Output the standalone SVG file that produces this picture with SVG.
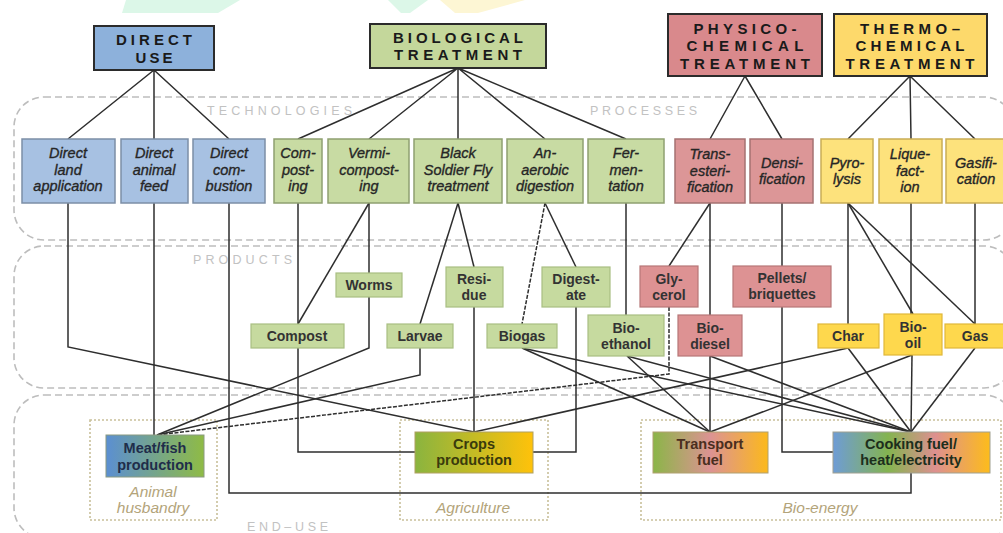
<svg xmlns="http://www.w3.org/2000/svg" width="1003" height="533" viewBox="0 0 1003 533">
<style>
.title{font-family:"Liberation Sans",Arial,sans-serif;font-weight:bold;font-size:15px;fill:#1a1a1a;text-anchor:middle}
.tech{font-family:"Liberation Sans",Arial,sans-serif;font-style:italic;font-size:14.5px;fill:#262626;stroke:#262626;stroke-width:0.35;text-anchor:middle}
.prod{font-family:"Liberation Sans",Arial,sans-serif;font-weight:bold;font-size:14px;fill:#333;text-anchor:middle}
.end{font-family:"Liberation Sans",Arial,sans-serif;font-weight:bold;font-size:14.5px;text-anchor:middle}
.cat{font-family:"Liberation Sans",Arial,sans-serif;font-style:italic;font-size:15.5px;fill:#b3a47a;text-anchor:middle}
.sec{font-family:"Liberation Sans",Arial,sans-serif;font-size:12.5px;fill:#c2c2c2}
.region{fill:none;stroke:#bdbdbd;stroke-width:1.6;stroke-dasharray:7 4}
.dot{fill:none;stroke:#c9c09a;stroke-width:1.6;stroke-dasharray:2 2}
.tb{stroke:#2b2b2b;stroke-width:2}
.blue{fill:#a7c1e2;stroke:#7c8ea6;stroke-width:1.5}
.green{fill:#c8dba3;stroke:#8fa070;stroke-width:1.5}
.pink{fill:#dc9697;stroke:#a57272;stroke-width:1.5}
.yellow{fill:#fde27c;stroke:#c9ad55;stroke-width:1.5}
.pgreen{fill:#c6da9f;stroke:#a9bf83;stroke-width:1.2}
.ppink{fill:#dd9293;stroke:#b77777;stroke-width:1.2}
.pyellow{fill:#fed84d;stroke:#e0b83a;stroke-width:1.2}
.conn path{fill:none;stroke:#2e2e2e;stroke-width:1.5}
.conn path.d{stroke-dasharray:4 1.5}
</style>
<defs>
<linearGradient id="gMeat" x1="0" x2="1"><stop offset="0" stop-color="#5b8fd2"/><stop offset="1" stop-color="#8fbb45"/></linearGradient>
<linearGradient id="gCrops" x1="0" x2="1"><stop offset="0" stop-color="#8ab43f"/><stop offset="1" stop-color="#ffc20a"/></linearGradient>
<linearGradient id="gTrans" x1="0" x2="1"><stop offset="0" stop-color="#8bb548"/><stop offset="0.5" stop-color="#dc9393"/><stop offset="1" stop-color="#fcb91c"/></linearGradient>
<linearGradient id="gCook" x1="0" x2="1"><stop offset="0" stop-color="#6e9cd6"/><stop offset="0.35" stop-color="#84b450"/><stop offset="0.65" stop-color="#dd9090"/><stop offset="1" stop-color="#fdbc1b"/></linearGradient>
</defs>
<rect width="1003" height="533" fill="#ffffff"/>
<polygon points="126,0 240,0 218,13 122,13" fill="#dcf7e8"/>
<polygon points="388,0 428,0 410,13 401,13" fill="#dcf7e8"/>
<polygon points="440,0 525,0 478,13 455,13" fill="#fdf6d4"/>

<g id="regions">
<rect class="region" x="14" y="97" width="1000" height="143" rx="30"/>
<rect class="region" x="14" y="246" width="1000" height="142" rx="30"/>
<rect class="region" x="14" y="395" width="1000" height="143" rx="30"/>
<text class="sec" x="207" y="115" textLength="145" lengthAdjust="spacing">TECHNOLOGIES</text>
<text class="sec" x="590" y="115" textLength="107" lengthAdjust="spacing">PROCESSES</text>
<text class="sec" x="193" y="264" textLength="99" lengthAdjust="spacing">PRODUCTS</text>
<rect x="240" y="519" width="95" height="14" fill="#ffffff"/>
<text class="sec" x="247" y="531" textLength="81" lengthAdjust="spacing">END–USE</text>
<rect class="dot" x="90" y="420" width="127" height="100"/>
<rect class="dot" x="400" y="420" width="148" height="100"/>
<rect class="dot" x="641" y="420" width="360" height="100"/>
<text class="cat" x="153" y="497">Animal</text>
<text class="cat" x="153" y="513">husbandry</text>
<text class="cat" x="473" y="513">Agriculture</text>
<text class="cat" x="820" y="513">Bio-energy</text>
</g>

<g id="connectors" class="conn">
<path d="M154,70 L68,139 M154,70 L154,139 M154,70 L229,139"/>
<path d="M458,68 L298,139 M458,68 L369,139 M458,68 L458,139 M458,68 L545,139 M458,68 L626,139"/>
<path d="M745,76 L710,139 M745,76 L782,139"/>
<path d="M910,76 L848,139 M910,76 L911,139 M910,76 L975,139"/>
<path d="M68,203 V347 L474,432"/>
<path d="M154,203 V435"/>
<path d="M229,203 V493 H911 V473"/>
<path d="M298,203 V452 H415"/>
<path d="M369,203 L298,324"/>
<path d="M369,203 V273"/>
<path d="M369,297 V348 L157,435"/>
<path d="M458,203 L420,324"/>
<path d="M458,203 L474,267"/>
<path d="M420,348 V375 L157,435"/>
<path d="M474,307 V432"/>
<path class="d" d="M545,203 L522,324"/>
<path d="M545,203 L576,267"/>
<path d="M576,307 V452 H533"/>
<path d="M522,348 L710,432"/>
<path d="M522,348 L911,432"/>
<path d="M626,203 V315"/>
<path d="M627,356 L710,432"/>
<path d="M627,356 L911,432"/>
<path d="M710,203 L669,266"/>
<path d="M710,203 V315"/>
<path class="d" d="M669,307 V374 L157,435"/>
<path d="M710,356 V432"/>
<path d="M710,356 L911,432"/>
<path d="M782,203 V266"/>
<path d="M782,307 V452 H833"/>
<path d="M848,203 V324"/>
<path d="M848,203 L913,314"/>
<path d="M848,203 L975,324"/>
<path d="M911,203 V314"/>
<path d="M975,203 V324"/>
<path d="M848,348 L911,432"/>
<path d="M848,348 L474,432"/>
<path d="M912,355 L911,432"/>
<path d="M912,355 L710,432"/>
<path d="M975,348 L911,432"/>
</g>

<g id="direct-use"><rect class="tb" x="94" y="26" width="120" height="44" fill="#8db1db"/>
<text class="title" x="154" y="45" textLength="76" lengthAdjust="spacing">DIRECT</text>
<text class="title" x="154" y="63" textLength="37" lengthAdjust="spacing">USE</text></g>
<g id="biological"><rect class="tb" x="370" y="24" width="176" height="44" fill="#c4d79b"/>
<text class="title" x="458" y="43" textLength="130" lengthAdjust="spacing">BIOLOGICAL</text>
<text class="title" x="458" y="60" textLength="128" lengthAdjust="spacing">TREATMENT</text></g>
<g id="physico"><rect class="tb" x="668" y="14" width="154" height="62" fill="#d9898c"/>
<text class="title" x="745" y="34" textLength="103" lengthAdjust="spacing">PHYSICO-</text>
<text class="title" x="745" y="51" textLength="117" lengthAdjust="spacing">CHEMICAL</text>
<text class="title" x="745" y="69" textLength="130" lengthAdjust="spacing">TREATMENT</text></g>
<g id="thermo"><rect class="tb" x="834" y="14" width="153" height="62" fill="#fdd96b"/>
<text class="title" x="910" y="34" textLength="100" lengthAdjust="spacing">THERMO–</text>
<text class="title" x="910" y="51" textLength="109" lengthAdjust="spacing">CHEMICAL</text>
<text class="title" x="910" y="69" textLength="129" lengthAdjust="spacing">TREATMENT</text></g>

<g id="direct-land"><rect class="blue" x="22" y="139" width="93" height="64"/>
<text class="tech" x="68" y="158">Direct</text><text class="tech" x="68" y="175">land</text><text class="tech" x="68" y="191">application</text></g>
<g id="direct-feed"><rect class="blue" x="121" y="139" width="67" height="64"/>
<text class="tech" x="154" y="158">Direct</text><text class="tech" x="154" y="175">animal</text><text class="tech" x="154" y="191">feed</text></g>
<g id="direct-combustion"><rect class="blue" x="193" y="139" width="72" height="64"/>
<text class="tech" x="229" y="158">Direct</text><text class="tech" x="229" y="175">com-</text><text class="tech" x="229" y="191">bustion</text></g>
<g id="composting"><rect class="green" x="274" y="139" width="48" height="64"/>
<text class="tech" x="298" y="158">Com-</text><text class="tech" x="298" y="175">post-</text><text class="tech" x="298" y="191">ing</text></g>
<g id="vermicomposting"><rect class="green" x="328" y="139" width="81" height="64"/>
<text class="tech" x="369" y="158">Vermi-</text><text class="tech" x="369" y="175">compost-</text><text class="tech" x="369" y="191">ing</text></g>
<g id="bsf"><rect class="green" x="414" y="139" width="88" height="64"/>
<text class="tech" x="458" y="158">Black</text><text class="tech" x="458" y="175">Soldier Fly</text><text class="tech" x="458" y="191">treatment</text></g>
<g id="anaerobic"><rect class="green" x="507" y="139" width="76" height="64"/>
<text class="tech" x="545" y="158">An-</text><text class="tech" x="545" y="175">aerobic</text><text class="tech" x="545" y="191">digestion</text></g>
<g id="fermentation"><rect class="green" x="588" y="139" width="76" height="64"/>
<text class="tech" x="626" y="158">Fer-</text><text class="tech" x="626" y="175">men-</text><text class="tech" x="626" y="191">tation</text></g>
<g id="transesterification"><rect class="pink" x="675" y="139" width="70" height="64"/>
<text class="tech" x="710" y="159">Trans-</text><text class="tech" x="710" y="176">esteri-</text><text class="tech" x="710" y="192">fication</text></g>
<g id="densification"><rect class="pink" x="750" y="139" width="63" height="64"/>
<text class="tech" x="782" y="168">Densi-</text><text class="tech" x="782" y="184">fication</text></g>
<g id="pyrolysis"><rect class="yellow" x="821" y="139" width="52" height="64"/>
<text class="tech" x="847" y="168">Pyro-</text><text class="tech" x="847" y="184">lysis</text></g>
<g id="liquefaction"><rect class="yellow" x="879" y="139" width="63" height="64"/>
<text class="tech" x="910" y="159">Lique-</text><text class="tech" x="910" y="176">fact-</text><text class="tech" x="910" y="192">ion</text></g>
<g id="gasification"><rect class="yellow" x="946" y="139" width="62" height="64"/>
<text class="tech" x="976" y="168">Gasifi-</text><text class="tech" x="976" y="184">cation</text></g>

<g id="worms"><rect class="pgreen" x="336" y="273" width="66" height="24"/><text class="prod" x="369" y="290">Worms</text></g>
<g id="compost"><rect class="pgreen" x="251" y="324" width="93" height="24"/><text class="prod" x="297" y="341">Compost</text></g>
<g id="larvae"><rect class="pgreen" x="387" y="324" width="66" height="24"/><text class="prod" x="420" y="341">Larvae</text></g>
<g id="residue"><rect class="pgreen" x="446" y="267" width="57" height="40"/><text class="prod" x="474" y="284">Resi-</text><text class="prod" x="474" y="300">due</text></g>
<g id="digestate"><rect class="pgreen" x="542" y="267" width="68" height="40"/><text class="prod" x="576" y="284">Digest-</text><text class="prod" x="576" y="300">ate</text></g>
<g id="biogas"><rect class="pgreen" x="487" y="324" width="70" height="24"/><text class="prod" x="522" y="341">Biogas</text></g>
<g id="bioethanol"><rect class="pgreen" x="588" y="315" width="76" height="41"/><text class="prod" x="626" y="333">Bio-</text><text class="prod" x="626" y="349">ethanol</text></g>
<g id="glycerol"><rect class="ppink" x="640" y="266" width="58" height="41"/><text class="prod" x="669" y="284">Gly-</text><text class="prod" x="669" y="300">cerol</text></g>
<g id="biodiesel"><rect class="ppink" x="678" y="315" width="64" height="41"/><text class="prod" x="710" y="333">Bio-</text><text class="prod" x="710" y="349">diesel</text></g>
<g id="pellets"><rect class="ppink" x="733" y="266" width="98" height="41"/><text class="prod" x="782" y="283">Pellets/</text><text class="prod" x="782" y="299">briquettes</text></g>
<g id="char"><rect class="pyellow" x="818" y="324" width="61" height="24"/><text class="prod" x="848" y="341">Char</text></g>
<g id="biooil"><rect class="pyellow" x="884" y="314" width="58" height="41"/><text class="prod" x="913" y="332">Bio-</text><text class="prod" x="913" y="348">oil</text></g>
<g id="gas"><rect class="pyellow" x="945" y="324" width="62" height="24"/><text class="prod" x="975" y="341">Gas</text></g>

<g id="meat"><rect x="106" y="435" width="98" height="42" fill="url(#gMeat)" stroke="#8a9a80" stroke-width="1"/>
<text class="end" x="155" y="453" fill="#1f2d4a">Meat/fish</text><text class="end" x="155" y="470" fill="#1f2d4a">production</text></g>
<g id="crops"><rect x="415" y="432" width="118" height="41" fill="url(#gCrops)" stroke="#b0a060" stroke-width="1"/>
<text class="end" x="474" y="449" fill="#3a3a0c">Crops</text><text class="end" x="474" y="465" fill="#3a3a0c">production</text></g>
<g id="transport"><rect x="653" y="432" width="115" height="41" fill="url(#gTrans)" stroke="#b0a070" stroke-width="1"/>
<text class="end" x="710" y="449" fill="#4a2e1e">Transport</text><text class="end" x="710" y="465" fill="#4a2e1e">fuel</text></g>
<g id="cooking"><rect x="833" y="432" width="157" height="41" fill="url(#gCook)" stroke="#a0a090" stroke-width="1"/>
<text class="end" x="911" y="449" fill="#1c2e1c">Cooking fuel/</text><text class="end" x="911" y="465" fill="#1c2e1c">heat/electricity</text></g>
</svg>
